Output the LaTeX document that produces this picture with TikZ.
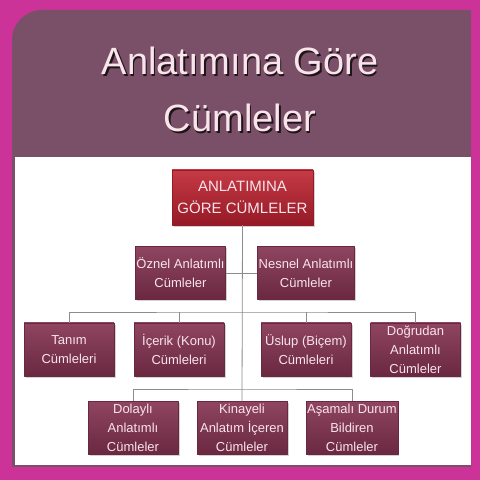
\documentclass[tikz,border=0pt]{standalone}
\usepackage{fontspec}
\setmainfont{Liberation Sans}
\usetikzlibrary{shadows}
\definecolor{frame}{HTML}{CC3399}
\definecolor{band}{HTML}{7A5068}
\definecolor{winetop}{HTML}{8F4560}
\definecolor{winebot}{HTML}{6A2840}
\definecolor{roottop}{HTML}{C53A45}
\definecolor{rootbot}{HTML}{951A26}
\definecolor{pinktext}{HTML}{F9E4EB}
\begin{document}
\begin{tikzpicture}[x=1pt,y=1pt,line join=round,
  leaf/.style={draw=winebot,line width=.4pt,top color=winetop,bottom color=winebot,
    minimum width=90pt,minimum height=53pt,inner sep=1pt,align=center,
    text=pinktext,font=\fontsize{13}{19}\selectfont,
    drop shadow={shadow xshift=1.5pt,shadow yshift=-2pt,opacity=.35}},
  rootbox/.style={leaf,draw=rootbot,top color=roottop,bottom color=rootbot,
    minimum width=141pt,minimum height=55pt,font=\fontsize{15}{22}\selectfont},
  wire/.style={draw=black!45,line width=.8pt},
  headline/.style={font=\fontsize{38}{44}\selectfont,anchor=base}]
  \useasboundingbox (0,0) rectangle (480,480);
  % frame and panel
  \fill[frame] (0,0) rectangle (480,480);
  \fill[band] (12,13) -- (12,440) arc[start angle=180,end angle=90,radius=30]
    -- (471,470) -- (471,13) -- cycle;
  \fill[white] (15,15) rectangle (471,323);
  % title
  \node[headline,text=black!75!band] at (241.5,403.5) {Anlatımına Göre};
  \node[headline,text=pinktext] (title1) at (240,405) {Anlatımına Göre};
  \node[headline,text=black!75!band] at (241.5,346.5) {Cümleler};
  \node[headline,text=pinktext] (title2) at (240,348) {Cümleler};
  % connectors
  \coordinate (bus3) at (242,168);
  \coordinate (bus4) at (242,91);
  % boxes
  \node[rootbox] (root) at (242.5,282.5) {ANLATIMINA\\GÖRE CÜMLELER};
  \node[leaf] (ozn) at (180.5,207) {Öznel Anlatımlı\\Cümleler};
  \node[leaf] (nes) at (306,207) {Nesnel Anlatımlı\\Cümleler};
  \node[leaf] (tan) at (69,130.5) {Tanım\\Cümleleri};
  \node[leaf] (ice) at (179,130.5) {İçerik (Konu)\\Cümleleri};
  \node[leaf] (usl) at (306,130.5) {Üslup (Biçem)\\Cümleleri};
  \node[leaf] (dog) at (415.5,130.5) {Doğrudan\\Anlatımlı\\Cümleler};
  \node[leaf] (dol) at (133,52) {Dolaylı\\Anlatımlı\\Cümleler};
  \node[leaf] (kin) at (242,52) {Kinayeli\\Anlatım İçeren\\Cümleler};
  \node[leaf] (asa) at (352,52) {Aşamalı Durum\\Bildiren\\Cümleler};
  \path[wire] (root.south) -- (kin.north);
  \path[wire] (ozn.east) -- (nes.west);
  \path[wire] (tan.north) |- (bus3) -| (dog.north);
  \path[wire] (ice.north) -- (ice.north |- bus3);
  \path[wire] (usl.north) -- (usl.north |- bus3);
  \path[wire] (dol.north) |- (bus4) -| (asa.north);
\end{tikzpicture}
\end{document}
